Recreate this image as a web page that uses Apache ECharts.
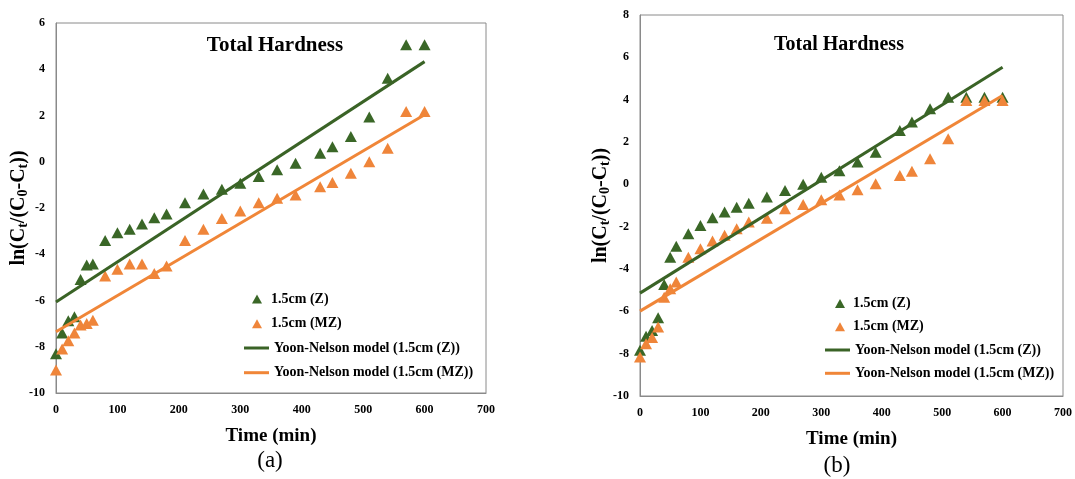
<!DOCTYPE html>
<html>
<head>
<meta charset="utf-8">
<script src="https://cdn.jsdelivr.net/npm/echarts@6/dist/echarts.min.js"></script>
<style>
html,body{margin:0;padding:0;background:#fff;}
#chart{width:1075px;height:479px;}
</style>
</head>
<body>
<div id="chart"></div>
<script>
// ---- Data ----
var timeMin = [0,10,20,30,40,50,60,80,100,120,140,160,180,210,240,270,300,330,360,390,430,450,480,510,540,570,600];
// Panel (a)
var zA  = [-8.3,-7.4,-6.88,-6.7,-5.09,-4.47,-4.42,-3.41,-3.07,-2.92,-2.69,-2.42,-2.26,-1.77,-1.39,-1.19,-0.93,-0.64,-0.35,-0.07,0.37,0.65,1.09,1.93,3.61,5.06,5.06];
var mzA = [-9.0,-8.1,-7.74,-7.4,-7.06,-6.99,-6.85,-4.94,-4.65,-4.42,-4.42,-4.83,-4.51,-3.41,-2.92,-2.45,-2.13,-1.77,-1.58,-1.44,-1.08,-0.9,-0.5,0.0,0.58,2.17,2.17];
// Panel (b)
var zB  = [-7.84,-7.18,-6.9,-6.3,-4.73,-3.44,-2.93,-2.33,-1.94,-1.58,-1.31,-1.08,-0.89,-0.6,-0.29,0.0,0.34,0.64,1.05,1.52,2.54,2.94,3.57,4.12,4.12,4.12,4.12];
var mzB = [-8.16,-7.53,-7.24,-6.74,-5.33,-4.93,-4.62,-3.44,-3.04,-2.68,-2.41,-2.1,-1.78,-1.6,-1.15,-0.95,-0.73,-0.5,-0.26,0.03,0.42,0.62,1.21,2.15,3.96,3.96,3.96];
// Yoon-Nelson model lines (endpoints)
var modelTime = [0, 600];
var modelZA  = [-6.06, 4.33];
var modelMZA = [-7.35, 2.03];
var modelZB  = [-5.14, 5.53];
var modelMZB = [-5.99, 4.2];
// Axis ticks
var xTicks = {min:0, max:700, interval:100};
var yTicksA = {min:-10, max:6, interval:2};
var yTicksB = {min:-10, max:8, interval:2};
var seriesNames = ['1.5cm (Z)','1.5cm (MZ)','Yoon-Nelson model (1.5cm (Z))','Yoon-Nelson model (1.5cm (MZ))'];
var titleText = 'Total Hardness';

// ---- Styles ----
var GREEN = '#3A6727', ORANGE = '#EF853A';
var GREEN_LINE = '#3A6326', ORANGE_LINE = '#F08638';
var FONT = "'Liberation Serif','Times New Roman',serif";
var AXC = '#8a8a8a';

function pairs(xs, ys){ return xs.map(function(x,i){return [x, ys[i]];}); }

var yName = '{n|ln(C}{s|t}{n|/(C}{s|0}{n|-C}{s|t}{n|))}';
var yNameRich = {
  n:{fontFamily:FONT,fontWeight:'bold',fontSize:20,color:'#000'},
  s:{fontFamily:FONT,fontWeight:'bold',fontSize:14,color:'#000',verticalAlign:'bottom',padding:[8,0,0,0]}
};

function xAxis(gi){
  return {
    type:'value', gridIndex:gi, min:xTicks.min, max:xTicks.max, interval:xTicks.interval,
    name:'Time (min)', nameLocation:'middle', nameGap:34, nameMoveOverlap:false,
    nameTextStyle:{fontFamily:FONT,fontWeight:'bold',fontSize:19,color:'#000'},
    axisLine:{show:true,onZero:false,lineStyle:{color:AXC,width:1}},
    axisTick:{show:false}, splitLine:{show:false},
    axisLabel:{fontFamily:FONT,fontWeight:'bold',fontSize:12,color:'#000',margin:11}
  };
}
function yAxis(gi, t, gap){
  return {
    type:'value', gridIndex:gi, min:t.min, max:t.max, interval:t.interval,
    name:yName, nameLocation:'middle', nameGap:gap, nameRotate:90, nameMoveOverlap:false,
    nameTextStyle:{rich:yNameRich},
    axisLine:{show:true,lineStyle:{color:AXC,width:1}},
    axisTick:{show:false}, splitLine:{show:false},
    axisLabel:{fontFamily:FONT,fontWeight:'bold',fontSize:12,color:'#000',margin:11}
  };
}
function scatter(name, xi, data, color){
  return {name:name,type:'scatter',xAxisIndex:xi,yAxisIndex:xi,data:data,
    symbol:'triangle',symbolSize:[12,11],itemStyle:{color:color,opacity:1},z:2};
}
function line(name, xi, data, color){
  return {name:name,type:'line',xAxisIndex:xi,yAxisIndex:xi,data:data,
    symbol:'none',showSymbol:false,lineStyle:{color:color,width:3},itemStyle:{color:color},z:3};
}
function legends(leftTri, topTri, padTri, leftLine, topLine, gap){
  var ts = {fontFamily:FONT,fontWeight:'bold',fontSize:14,color:'#000',lineHeight:16};
  return [
    {orient:'vertical',left:leftTri,top:topTri,padding:0,itemWidth:10,itemHeight:9,itemGap:gap,
     data:[{name:seriesNames[0],icon:'triangle'},{name:seriesNames[1],icon:'triangle'}],
     textStyle:Object.assign({padding:[0,0,0,padTri]},ts), selectedMode:false},
    {orient:'vertical',left:leftLine,top:topLine,padding:0,itemWidth:25,itemHeight:3,itemGap:gap,
     data:[{name:seriesNames[2],icon:'rect'},{name:seriesNames[3],icon:'rect'}],
     textStyle:ts, selectedMode:false}
  ];
}
function label(text, cx, top, size, weight){
  return {text:text,left:cx,top:top,padding:0,textAlign:'center',
    textStyle:{fontFamily:FONT,fontWeight:weight,fontSize:size,color:'#000'}};
}

var chart = echarts.init(document.getElementById('chart'), null, {renderer:'canvas'});
chart.setOption({
  backgroundColor:'#fff',
  animation:false,
  title:[
    label(titleText, 275, 35, 21, 'bold'),
    label(titleText, 839, 35, 20, 'bold'),
    label('(a)', 270, 449, 23, 'normal'),
    label('(b)', 837, 454, 23, 'normal')
  ],
  legend: legends(252, 291, 4, 244, 340, 8.7).concat(legends(835, 295.5, 3, 825, 342, 7.3)),
  grid:[
    {left:56,top:23,width:430,height:370,show:true,borderColor:AXC,borderWidth:1,containLabel:false},
    {left:640,top:15,width:425,height:381,show:true,borderColor:AXC,borderWidth:1,containLabel:false}
  ],
  xAxis:[xAxis(0), xAxis(1)],
  yAxis:[yAxis(0, yTicksA, 26), yAxis(1, yTicksB, 28)],
  series:[
    scatter(seriesNames[0],0,pairs(timeMin,zA),GREEN),
    scatter(seriesNames[1],0,pairs(timeMin,mzA),ORANGE),
    line(seriesNames[2],0,pairs(modelTime,modelZA),GREEN_LINE),
    line(seriesNames[3],0,pairs(modelTime,modelMZA),ORANGE_LINE),
    scatter(seriesNames[0],1,pairs(timeMin,zB),GREEN),
    scatter(seriesNames[1],1,pairs(timeMin,mzB),ORANGE),
    line(seriesNames[2],1,pairs(modelTime,modelZB),GREEN_LINE),
    line(seriesNames[3],1,pairs(modelTime,modelMZB),ORANGE_LINE)
  ]
});
</script>
</body>
</html>
